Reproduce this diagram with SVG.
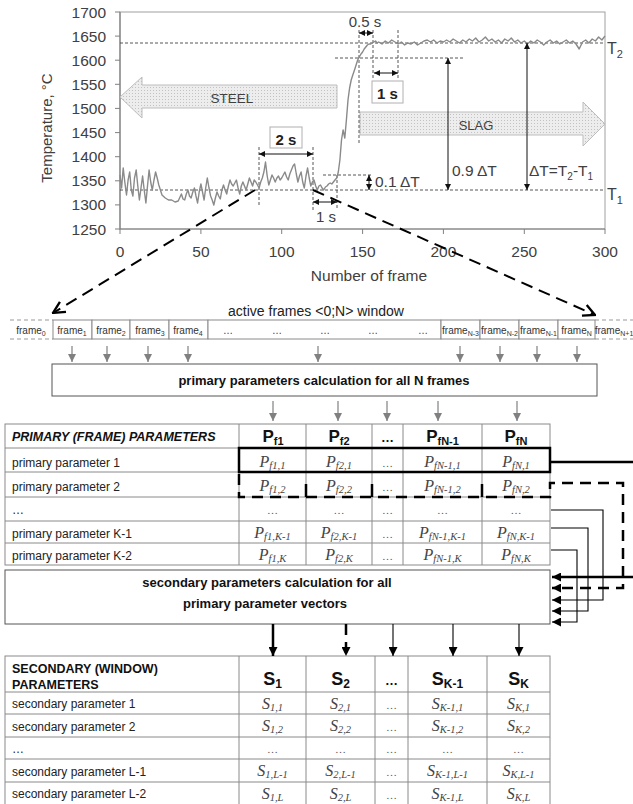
<svg xmlns="http://www.w3.org/2000/svg" width="633" height="804" viewBox="0 0 633 804">
<defs>
<style>
text{font-family:"Liberation Sans",Arial,sans-serif;}
.tk{font-size:15.5px;fill:#404040}
.tky{font-size:15.5px;fill:#404040;text-anchor:end}
.tkx{font-size:15.5px;fill:#404040;text-anchor:middle}
.ch{font-size:15px;fill:#404040}
.dsh{stroke:#444;stroke-width:0.9;stroke-dasharray:3,2;fill:none}
.dim{stroke:#111;stroke-width:1;fill:none;marker-start:url(#ah);marker-end:url(#ah)}
.fr{font-size:10px;fill:#333;text-anchor:middle}
.cellb{fill:#fff;stroke:#8a8a8a;stroke-width:1}
.grid{stroke:#8a8a8a;stroke-width:1;fill:none}
.lab{font-size:12px;fill:#222}
.hd{font-size:17px;font-weight:bold;fill:#111;text-anchor:middle}
.val{font-family:"Liberation Serif","Times New Roman",serif;font-style:italic;font-size:16px;fill:#444;text-anchor:middle}
.dots{font-family:"Liberation Serif","Times New Roman",serif;font-size:11px;fill:#555;text-anchor:middle}
.gar{stroke:#808080;stroke-width:1.2;fill:none;marker-end:url(#ga)}
.bold{font-size:13px;font-weight:bold;fill:#111;text-anchor:middle}
.thk{stroke:#000;stroke-width:2.5;fill:none}
.thkd{stroke:#000;stroke-width:2.5;fill:none;stroke-dasharray:11,7}
.thn{stroke:#000;stroke-width:1.1;fill:none}
</style>
<marker id="ah" viewBox="0 0 10 10" refX="10" refY="5" markerWidth="6" markerHeight="6" markerUnits="userSpaceOnUse" orient="auto-start-reverse"><path d="M0,0L10,5L0,10z" fill="#111"/></marker>
<marker id="ga" viewBox="0 0 10 10" refX="10" refY="5" markerWidth="8" markerHeight="8" markerUnits="userSpaceOnUse" orient="auto"><path d="M0,0L10,5L0,10z" fill="#808080"/></marker>
<marker id="ba" viewBox="0 0 10 10" refX="10" refY="5" markerWidth="9" markerHeight="9" markerUnits="userSpaceOnUse" orient="auto"><path d="M0,0L10,5L0,10z" fill="#000"/></marker>
<marker id="oa" viewBox="0 0 12 12" refX="11" refY="6" markerWidth="14" markerHeight="14" markerUnits="userSpaceOnUse" orient="auto"><path d="M1,1L11,6L1,11" fill="none" stroke="#000" stroke-width="2"/></marker>
<pattern id="dotfill" width="3" height="3" patternUnits="userSpaceOnUse"><rect width="3" height="3" fill="#ededed"/><rect width="1" height="1" fill="#c2c2c2"/></pattern>
</defs>
<rect width="633" height="804" fill="#fff"/>

<g id="chart">
<rect x="120" y="12" width="485" height="217" fill="none" stroke="#a0a0a0" stroke-width="1"/>
<path d="M120,12 V229 H605" stroke="#808080" stroke-width="1.2" fill="none"/>
<path d="M115,12H120M115,36.1H120M115,60.2H120M115,84.3H120M115,108.4H120M115,132.6H120M115,156.7H120M115,180.8H120M115,204.9H120M115,229H120 M120,229V234M200.9,229V234M281.7,229V234M362.6,229V234M443.4,229V234M524.3,229V234M605,229V234" stroke="#808080" stroke-width="1"/>
<text class="tky" x="106" y="17.5">1700</text>
<text class="tky" x="106" y="41.6">1650</text>
<text class="tky" x="106" y="65.7">1600</text>
<text class="tky" x="106" y="89.8">1550</text>
<text class="tky" x="106" y="113.9">1500</text>
<text class="tky" x="106" y="138.1">1450</text>
<text class="tky" x="106" y="162.2">1400</text>
<text class="tky" x="106" y="186.3">1350</text>
<text class="tky" x="106" y="210.4">1300</text>
<text class="tky" x="106" y="234.5">1250</text>
<text class="tkx" x="120" y="257">0</text>
<text class="tkx" x="200.9" y="257">50</text>
<text class="tkx" x="281.7" y="257">100</text>
<text class="tkx" x="362.6" y="257">150</text>
<text class="tkx" x="443.4" y="257">200</text>
<text class="tkx" x="524.3" y="257">250</text>
<text class="tkx" x="605" y="257">300</text>
<text class="tkx" x="369" y="281">Number of frame</text>
<text class="tkx" transform="translate(52,128) rotate(-90)" x="0" y="0" style="font-size:15px">Temperature, °C</text>

<path d="M120,97 L142,77 L142,85 L337,85 L337,108 L142,108 L142,118 Z" fill="url(#dotfill)" stroke="#bdbdbd" stroke-width="1"/>
<text class="ch" x="232" y="103" text-anchor="middle" style="font-size:13.5px">STEEL</text>
<path d="M360,112 L583,112 L583,102 L605,124 L583,146 L583,135 L360,135 Z" fill="url(#dotfill)" stroke="#bdbdbd" stroke-width="1"/>
<text class="ch" x="476" y="130" text-anchor="middle" style="font-size:13px">SLAG</text>

<path class="dsh" d="M120,43H605 M120,190H605 M335,58H465 M323,175H372 M259,147V205 M313,147V210 M337,175V210 M359,30V143 M373,30V78 M398,30V78"/>

<polyline fill="none" stroke="#8a8a8a" stroke-width="1.4" stroke-linejoin="round" points="120,175 121.6,188 123.2,168 124.8,182 126.5,195 128.1,180 129.7,172 131.3,190 132.9,196 134.5,178 136.2,170 137.8,186 139.4,200 141,188 142.6,176 144.2,190 145.9,203 147.5,186 149.1,170 150.7,182 152.3,190 154,180 155.6,172 157.2,178 158.8,185 160.4,190 162,195 165.3,198 168.5,200 171.7,200 175,202 178.2,201 181.4,194 183,199 184.7,200 186.3,194 187.9,190 189.5,196 191.1,198 192.8,192 194.4,188 196,196 197.6,203 199.2,192 200.9,184 202.5,192 204.1,200 205.7,188 207.3,178 209,188 210.6,196 212.2,200 213.8,205 215.4,198 217,192 218.7,196 220.3,199 221.9,190 223.5,185 225.1,190 226.7,194 228.4,186 230,180 231.6,184 233.2,186 234.8,183 236.4,180 238.1,188 239.7,194 241.3,186 242.9,182 244.5,186 246.1,190 247.8,184 249.4,178 251,182 252.6,186 254.2,180 255.8,182 257.5,185 259.1,188 260.7,182 262.3,178 263.9,172 265.5,162 267.2,176 268.8,185 270.4,180 272,175 273.6,178 275.2,182 276.9,178 278.5,176 280.1,180 281.7,178 283.3,175 284.9,172 286.6,177 288.2,180 289.8,174 291.4,170 293,166 294.6,164 296.3,174 297.9,182 299.5,176 301.1,172 302.7,182 304.3,188 306,176 307.6,168 309.2,178 310.8,186 312.4,182 314,180 315.7,186 317.3,190 318.9,186 320.5,185 322.1,188 323.7,190 325.4,187 327,186 328.6,184 330.2,183 331.8,184 333.4,182 335,180 336.7,178 338.3,172 339.9,160 341.5,140 343.1,130 344.8,138 346.4,120 348,100 349.6,88 351.2,80 352.8,75 354.5,70 356.1,65 357.7,60 359.3,57 361,54 362.6,52 364.2,49 365.8,47 367.4,45 369,44 370.7,44 372.3,43 373.9,42 375.5,41 377.1,43 378.7,42 382,44 385.2,41 388.4,43 391.7,40 394.9,42 398.1,44 401.4,42 404.6,45 407.8,43 411.1,44 414.3,42 417.5,45 420.8,43 424,41 427.2,40 430.5,42 433.7,40 436.9,43 440.2,41 443.4,42 446.6,40 449.9,42 453.1,39 456.3,41 459.6,43 462.8,40 466,42 469.3,39 472.5,41 475.7,38 479,42 482.2,40 485.4,37 488.7,41 491.9,39 495.1,42 498.4,40 501.6,43 504.8,39 508.1,41 511.3,38 514.5,42 517.8,40 521,43 524.3,41 527.5,44 530.7,41 534,43 537.2,40 540.4,42 543.7,45 546.9,42 550.1,40 553.4,43 556.6,41 559.8,44 563.1,42 566.3,40 569.5,43 572.8,41 576,44 579.2,49 582.5,42 585.7,40 588.9,43 592.2,39 595.4,41 598.6,37 601.9,40 605,36"/>

<line class="dim" x1="259" y1="154" x2="313" y2="154"/>
<rect x="270" y="127" width="32" height="21" fill="#fff" stroke="#b0b0b0"/>
<text x="286" y="144.5" text-anchor="middle" style="font-size:15px;font-weight:bold;fill:#222">2 s</text>
<line class="dim" x1="313" y1="202" x2="337" y2="202"/>
<text class="ch" x="326" y="222" text-anchor="middle">1 s</text>
<line class="dim" x1="359" y1="33" x2="373" y2="33"/>
<text class="ch" x="365" y="27" text-anchor="middle">0.5 s</text>
<line class="dim" x1="374" y1="73" x2="398" y2="73"/>
<rect x="372" y="81" width="31" height="22" fill="#fff" stroke="#b0b0b0"/>
<text x="387.5" y="99" text-anchor="middle" style="font-size:15px;font-weight:bold;fill:#222">1 s</text>
<line class="dim" x1="369" y1="175" x2="369" y2="190"/>
<text class="ch" x="375" y="187" style="font-size:15.5px">0.1 ΔT</text>
<line class="dim" x1="448" y1="58" x2="448" y2="190"/>
<text class="ch" x="452" y="176" style="font-size:15.5px">0.9 ΔT</text>
<line class="dim" x1="527" y1="43" x2="527" y2="190"/>
<text class="ch" x="529" y="176" style="font-size:15.5px">ΔT=T<tspan font-size="10" dy="4">2</tspan><tspan dy="-4">-T</tspan><tspan font-size="10" dy="4">1</tspan></text>
<text class="ch" x="607" y="54" style="font-size:16px">T<tspan font-size="11" dy="4">2</tspan></text>
<text class="ch" x="607" y="200" style="font-size:16px">T<tspan font-size="11" dy="4">1</tspan></text>
</g>

<g id="frame-row">
<text x="316" y="316" text-anchor="middle" style="font-size:14px;fill:#222">active frames &lt;0;N&gt; window</text>
<path d="M10,320H53M10,339H53M595,320H633M595,339H633" stroke="#999" stroke-width="1" stroke-dasharray="4,3" fill="none"/>
<rect class="cellb" x="53" y="320" width="39" height="19"/>
<rect class="cellb" x="92" y="320" width="38" height="19"/>
<rect class="cellb" x="130" y="320" width="39" height="19"/>
<rect class="cellb" x="169" y="320" width="39" height="19"/>
<rect class="cellb" x="208" y="320" width="233" height="19"/>
<rect class="cellb" x="441" y="320" width="39" height="19"/>
<rect class="cellb" x="480" y="320" width="39" height="19"/>
<rect class="cellb" x="519" y="320" width="39" height="19"/>
<rect class="cellb" x="558" y="320" width="37" height="19"/>
<text class="fr" x="31" y="334">frame<tspan font-size="7" dy="2">0</tspan></text>
<text class="fr" x="72" y="334">frame<tspan font-size="7" dy="2">1</tspan></text>
<text class="fr" x="111" y="334">frame<tspan font-size="7" dy="2">2</tspan></text>
<text class="fr" x="150" y="334">frame<tspan font-size="7" dy="2">3</tspan></text>
<text class="fr" x="188" y="334">frame<tspan font-size="7" dy="2">4</tspan></text>
<text class="fr" x="228" y="334">…</text>
<text class="fr" x="277" y="334">…</text>
<text class="fr" x="325" y="334">…</text>
<text class="fr" x="373" y="334">…</text>
<text class="fr" x="423" y="334">…</text>
<text class="fr" x="460.5" y="334">frame<tspan font-size="7" dy="2">N-3</tspan></text>
<text class="fr" x="499.5" y="334">frame<tspan font-size="7" dy="2">N-2</tspan></text>
<text class="fr" x="538.5" y="334">frame<tspan font-size="7" dy="2">N-1</tspan></text>
<text class="fr" x="576.5" y="334">frame<tspan font-size="7" dy="2">N</tspan></text>
<text class="fr" x="614" y="334">frame<tspan font-size="7" dy="2">N+1</tspan></text>
</g>

<g id="calc-primary">
<rect x="52" y="364" width="545" height="32" fill="#fff" stroke="#555" stroke-width="1"/>
<text class="bold" x="324" y="385">primary parameters calculation for all N frames</text>
</g>

<g id="table-primary">
<rect x="5" y="424" width="545" height="141" fill="#fff" stroke="#8a8a8a"/>
<path class="grid" d="M5,448H550M5,472H550M5,497H550M5,521H550M5,543H550M239,424V565M306,424V565M372,424V565M403,424V565M482,424V565"/>
<text x="12" y="441" style="font-size:12.5px;font-weight:bold;font-style:italic;fill:#111">PRIMARY (FRAME) PARAMETERS</text>
<text class="hd" x="273" y="442">P<tspan font-size="11" dy="3">f1</tspan></text>
<text class="hd" x="339" y="442">P<tspan font-size="11" dy="3">f2</tspan></text>
<text class="hd" x="387.5" y="442" style="font-size:13px">…</text>
<text class="hd" x="442.5" y="442">P<tspan font-size="11" dy="3">fN-1</tspan></text>
<text class="hd" x="516" y="442">P<tspan font-size="11" dy="3">fN</tspan></text>
<text class="lab" x="12" y="467">primary parameter 1</text>
<text class="lab" x="12" y="491">primary parameter 2</text>
<text class="lab" x="12" y="514">…</text>
<text class="lab" x="12" y="538">primary parameter K-1</text>
<text class="lab" x="12" y="560">primary parameter K-2</text>
<text class="val" x="272.5" y="467">P<tspan font-size="10.5" dy="2">f1,1</tspan></text>
<text class="val" x="339" y="467">P<tspan font-size="10.5" dy="2">f2,1</tspan></text>
<text class="dots" x="387.5" y="467">…</text>
<text class="val" x="442.5" y="467">P<tspan font-size="10.5" dy="2">fN-1,1</tspan></text>
<text class="val" x="516" y="467">P<tspan font-size="10.5" dy="2">fN,1</tspan></text>
<text class="val" x="272.5" y="491">P<tspan font-size="10.5" dy="2">f1,2</tspan></text>
<text class="val" x="339" y="491">P<tspan font-size="10.5" dy="2">f2,2</tspan></text>
<text class="dots" x="387.5" y="491">…</text>
<text class="val" x="442.5" y="491">P<tspan font-size="10.5" dy="2">fN-1,2</tspan></text>
<text class="val" x="516" y="491">P<tspan font-size="10.5" dy="2">fN,2</tspan></text>
<text class="dots" x="272.5" y="514">…</text>
<text class="dots" x="339" y="514">…</text>
<text class="dots" x="387.5" y="514">…</text>
<text class="dots" x="442.5" y="514">…</text>
<text class="dots" x="516" y="514">…</text>
<text class="val" x="272.5" y="538">P<tspan font-size="10.5" dy="2">f1,K-1</tspan></text>
<text class="val" x="339" y="538">P<tspan font-size="10.5" dy="2">f2,K-1</tspan></text>
<text class="dots" x="387.5" y="538">…</text>
<text class="val" x="442.5" y="538">P<tspan font-size="10.5" dy="2">fN-1,K-1</tspan></text>
<text class="val" x="516" y="538">P<tspan font-size="10.5" dy="2">fN,K-1</tspan></text>
<text class="val" x="272.5" y="560">P<tspan font-size="10.5" dy="2">f1,K</tspan></text>
<text class="val" x="339" y="560">P<tspan font-size="10.5" dy="2">f2,K</tspan></text>
<text class="dots" x="387.5" y="560">…</text>
<text class="val" x="442.5" y="560">P<tspan font-size="10.5" dy="2">fN-1,K</tspan></text>
<text class="val" x="516" y="560">P<tspan font-size="10.5" dy="2">fN,K</tspan></text>
<rect x="239" y="448" width="311" height="24" fill="none" stroke="#000" stroke-width="2.5"/>
</g>

<g id="calc-secondary">
<rect x="5" y="570" width="545" height="54" fill="#fff" stroke="#555" stroke-width="1"/>
<text class="bold" x="267" y="587">secondary parameters calculation for all</text>
<text class="bold" x="265" y="608">primary parameter vectors</text>
</g>

<g id="table-secondary">
<rect x="5" y="656" width="545" height="156" fill="#fff" stroke="#8a8a8a"/>
<path class="grid" d="M5,692H550M5,714H550M5,737H550M5,759H550M5,782H550M239,656V804M306,656V804M375,656V804M408,656V804M487,656V804"/>
<text x="12" y="673" style="font-size:12.5px;font-weight:bold;fill:#111">SECONDARY (WINDOW)</text>
<text x="12" y="689" style="font-size:12.5px;font-weight:bold;fill:#111">PARAMETERS</text>
<text class="hd" x="272.5" y="685" style="font-size:18px">S<tspan font-size="12" dy="3">1</tspan></text>
<text class="hd" x="340.5" y="685" style="font-size:18px">S<tspan font-size="12" dy="3">2</tspan></text>
<text class="hd" x="391.5" y="685" style="font-size:13px">…</text>
<text class="hd" x="447.5" y="685" style="font-size:18px">S<tspan font-size="12" dy="3">K-1</tspan></text>
<text class="hd" x="518.5" y="685" style="font-size:18px">S<tspan font-size="12" dy="3">K</tspan></text>
<text class="lab" x="12" y="708">secondary parameter 1</text>
<text class="lab" x="12" y="731">secondary parameter 2</text>
<text class="lab" x="12" y="753">…</text>
<text class="lab" x="12" y="776">secondary parameter L-1</text>
<text class="lab" x="12" y="798">secondary parameter L-2</text>
<text class="val" x="272.5" y="709">S<tspan font-size="10.5" dy="2">1,1</tspan></text>
<text class="val" x="340.5" y="709">S<tspan font-size="10.5" dy="2">2,1</tspan></text>
<text class="dots" x="391.5" y="709">…</text>
<text class="val" x="447.5" y="709">S<tspan font-size="10.5" dy="2">K-1,1</tspan></text>
<text class="val" x="518.5" y="709">S<tspan font-size="10.5" dy="2">K,1</tspan></text>
<text class="val" x="272.5" y="731">S<tspan font-size="10.5" dy="2">1,2</tspan></text>
<text class="val" x="340.5" y="731">S<tspan font-size="10.5" dy="2">2,2</tspan></text>
<text class="dots" x="391.5" y="731">…</text>
<text class="val" x="447.5" y="731">S<tspan font-size="10.5" dy="2">K-1,2</tspan></text>
<text class="val" x="518.5" y="731">S<tspan font-size="10.5" dy="2">K,2</tspan></text>
<text class="dots" x="272.5" y="753">…</text>
<text class="dots" x="340.5" y="753">…</text>
<text class="dots" x="391.5" y="753">…</text>
<text class="dots" x="447.5" y="753">…</text>
<text class="dots" x="518.5" y="753">…</text>
<text class="val" x="272.5" y="776">S<tspan font-size="10.5" dy="2">1,L-1</tspan></text>
<text class="val" x="340.5" y="776">S<tspan font-size="10.5" dy="2">2,L-1</tspan></text>
<text class="dots" x="391.5" y="776">…</text>
<text class="val" x="447.5" y="776">S<tspan font-size="10.5" dy="2">K-1,L-1</tspan></text>
<text class="val" x="518.5" y="776">S<tspan font-size="10.5" dy="2">K,L-1</tspan></text>
<text class="val" x="272.5" y="799">S<tspan font-size="10.5" dy="2">1,L</tspan></text>
<text class="val" x="340.5" y="799">S<tspan font-size="10.5" dy="2">2,L</tspan></text>
<text class="dots" x="391.5" y="799">…</text>
<text class="val" x="447.5" y="799">S<tspan font-size="10.5" dy="2">K-1,L</tspan></text>
<text class="val" x="518.5" y="799">S<tspan font-size="10.5" dy="2">K,L</tspan></text>
</g>

<g id="connectors">
<path d="M255,190 L53,313" stroke="#000" stroke-width="2" stroke-dasharray="12,7" fill="none" marker-end="url(#oa)"/>
<path d="M313,190 L595,315" stroke="#000" stroke-width="2" stroke-dasharray="12,7" fill="none" marker-end="url(#oa)"/>
<path class="gar" d="M72,346V362"/>
<path class="gar" d="M107,346V362"/>
<path class="gar" d="M148,346V362"/>
<path class="gar" d="M188,346V362"/>
<path class="gar" d="M318,346V362"/>
<path class="gar" d="M460,346V362"/>
<path class="gar" d="M500,346V362"/>
<path class="gar" d="M537,346V362"/>
<path class="gar" d="M577,346V362"/>
<path class="gar" d="M273,401V421"/>
<path class="gar" d="M338,401V421"/>
<path class="gar" d="M387,401V421"/>
<path class="gar" d="M438,401V421"/>
<path class="gar" d="M517,401V421"/>
<path class="thk" d="M551,462H633"/>
<path class="thk" d="M633,577H552" marker-end="url(#ba)"/>
<path class="thkd" d="M239,474V497H550V483H623V588H552" marker-end="url(#ba)"/>
<path class="thk" d="M306,484V497M372,484V497M482,484V497" stroke-width="2"/>
<path class="thn" d="M551,510H603V600H552" marker-end="url(#ba)"/>
<path class="thn" d="M551,528H588V611H552" marker-end="url(#ba)"/>
<path class="thn" d="M551,550H577V622H552" marker-end="url(#ba)"/>
<path class="thk" d="M273,624V656" marker-end="url(#ba)"/>
<path class="thkd" d="M346,624V656" marker-end="url(#ba)"/>
<path class="thn" d="M393,624V656" marker-end="url(#ba)"/>
<path class="thn" d="M453,624V656" marker-end="url(#ba)"/>
<path class="thn" d="M519,624V656" marker-end="url(#ba)"/>
</g>
</svg>
